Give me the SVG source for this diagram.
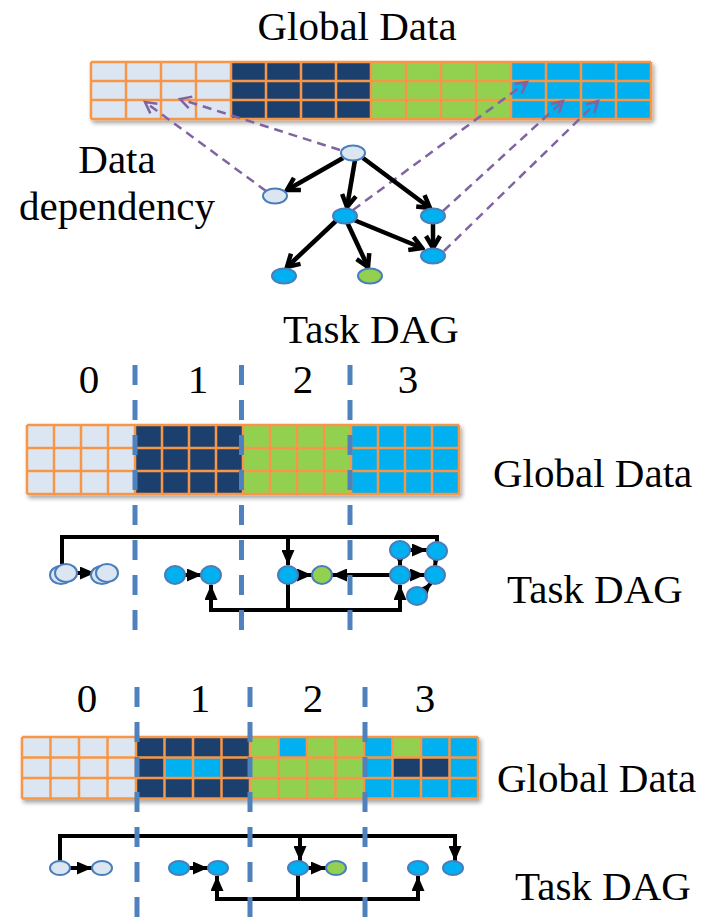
<svg xmlns="http://www.w3.org/2000/svg" width="702" height="922" viewBox="0 0 702 922">
<style>
.t{font-family:"Liberation Serif","Times New Roman",serif;font-size:41px;fill:#000}
.mid{text-anchor:middle}
.gl{stroke:#f79646;stroke-width:2.5;fill:none}
.lt{fill:#dce6f2}.dk{fill:#1f3f6e}.gr{fill:#92d050}.cy{fill:#00b0f0}
.nd{stroke:#4a7ebb;stroke-width:2}
.pd{stroke:#8064a2;stroke-width:2.5;stroke-dasharray:9 6;fill:none}
.ba{stroke:#000;stroke-width:4.5;fill:none}
.bk{stroke:#000;stroke-width:4;fill:none}
.vd{stroke:#4f81bd;stroke-width:5;stroke-dasharray:20 15;fill:none}
</style>
<defs>
<filter id="sh" x="-5%" y="-20%" width="110%" height="150%"><feDropShadow dx="2" dy="3" stdDeviation="2" flood-color="#000" flood-opacity="0.35"/></filter>
<marker id="chev" viewBox="0 0 18 18" refX="15" refY="9" markerWidth="18" markerHeight="18" markerUnits="userSpaceOnUse" orient="auto"><path d="M3,2 L15,9 L3,16" fill="none" stroke="#000" stroke-width="4.5" stroke-linejoin="miter"/></marker>
<marker id="parr" viewBox="0 0 16 16" refX="13" refY="8" markerWidth="16" markerHeight="16" markerUnits="userSpaceOnUse" orient="auto"><path d="M2,2 L13,8 L2,14" fill="none" stroke="#8064a2" stroke-width="2.5"/></marker>
<marker id="tri" viewBox="0 0 15 13" refX="15" refY="6.5" markerWidth="15" markerHeight="13" markerUnits="userSpaceOnUse" orient="auto"><path d="M0,0 L15,6.5 L0,13 z" fill="#000"/></marker>
</defs>
<rect width="702" height="922" fill="#fff"/>

<!-- Top section -->
<text class="t mid" x="357" y="40">Global Data</text>
<g id="grid-top" filter="url(#sh)">
<rect class="lt" x="91" y="62" width="140" height="57"/>
<rect class="dk" x="231" y="62" width="140" height="57"/>
<rect class="gr" x="371" y="62" width="140" height="57"/>
<rect class="cy" x="511" y="62" width="140" height="57"/>
<path class="gl" d="M91,62H651M91,81H651M91,100H651M91,119H651M91,62V119M126,62V119M161,62V119M196,62V119M231,62V119M266,62V119M301,62V119M336,62V119M371,62V119M406,62V119M441,62V119M476,62V119M511,62V119M546,62V119M581,62V119M616,62V119M651,62V119"/>
</g>
<text class="t mid" x="117" y="173">Data</text>
<text class="t mid" x="117" y="220">dependency</text>
<g id="dependencies">
<path class="pd" d="M266,191 L145,102" marker-end="url(#parr)"/>
<path class="pd" d="M340,150 L180,99" marker-end="url(#parr)"/>
<path class="pd" d="M353,210 L527,82" marker-end="url(#parr)"/>
<path class="pd" d="M443,211 L563,101" marker-end="url(#parr)"/>
<path class="pd" d="M444,251 L598,101" marker-end="url(#parr)"/>
</g>
<g id="edges-top">
<path class="ba" d="M343,158 L287,190" marker-end="url(#chev)"/>
<path class="ba" d="M355,160 L347,207" marker-end="url(#chev)"/>
<path class="ba" d="M363,158 L430,208" marker-end="url(#chev)"/>
<path class="ba" d="M337,220 L287,267" marker-end="url(#chev)"/>
<path class="ba" d="M347,222 L368,267" marker-end="url(#chev)"/>
<path class="ba" d="M354,220 L422,248" marker-end="url(#chev)"/>
<path class="ba" d="M433,223 L433,248" marker-end="url(#chev)"/>
</g>
<g id="n-root"><ellipse class="nd lt" cx="353" cy="153" rx="12" ry="7.5"/></g>
<g id="n-left"><ellipse class="nd lt" cx="275" cy="196" rx="12" ry="7.5"/></g>
<g id="n-mid"><ellipse class="nd cy" cx="345" cy="216" rx="12" ry="7.5"/></g>
<g id="n-right"><ellipse class="nd cy" cx="433" cy="216" rx="12" ry="7.5"/></g>
<g id="n-bl"><ellipse class="nd cy" cx="284" cy="276" rx="12" ry="7.5"/></g>
<g id="n-bg"><ellipse class="nd gr" cx="370" cy="276" rx="12" ry="7.5"/></g>
<g id="n-br"><ellipse class="nd cy" cx="433" cy="256" rx="12" ry="7.5"/></g>
<text class="t mid" x="371" y="343">Task DAG</text>

<!-- Middle section -->
<text class="t mid" x="89" y="393">0</text>
<text class="t mid" x="198" y="393">1</text>
<text class="t mid" x="303" y="393">2</text>
<text class="t mid" x="408" y="393">3</text>
<g id="grid-mid" filter="url(#sh)">
<rect class="lt" x="27" y="425" width="108" height="69"/>
<rect class="dk" x="135" y="425" width="108" height="69"/>
<rect class="gr" x="243" y="425" width="108" height="69"/>
<rect class="cy" x="351" y="425" width="108" height="69"/>
<path class="gl" d="M27,425H459M27,448H459M27,471H459M27,494H459M27,425V494M54,425V494M81,425V494M108,425V494M135,425V494M162,425V494M189,425V494M216,425V494M243,425V494M270,425V494M297,425V494M324,425V494M351,425V494M378,425V494M405,425V494M432,425V494M459,425V494"/>
</g>
<text class="t" x="493" y="487">Global Data</text>
<g id="edges-mid">
<path class="bk" d="M62,564 V537 H288 V565" marker-end="url(#tri)"/>
<path class="bk" d="M288,537 H437 V542"/>
<path class="bk" d="M288,584 V610 H211 V585" marker-end="url(#tri)"/>
<path class="bk" d="M288,610 H400 V585" marker-end="url(#tri)"/>
<path class="bk" d="M76,573 H95" marker-end="url(#tri)"/>
<path class="bk" d="M185,575 H202" marker-end="url(#tri)"/>
<path class="bk" d="M298,575 H312" marker-end="url(#tri)"/>
<path class="bk" d="M391,575 H332" marker-end="url(#tri)"/>
<path class="bk" d="M410,550 H427" marker-end="url(#tri)"/>
<path class="bk" d="M400,558 V566" marker-end="url(#tri)"/>
<path class="bk" d="M436,558 L435,566" marker-end="url(#tri)"/>
<path class="bk" d="M409,575 H425" marker-end="url(#tri)"/>
<path class="bk" d="M424,591 L431,583" marker-end="url(#tri)"/>
</g>
<g id="m-a1"><ellipse class="nd lt" cx="61" cy="575" rx="11" ry="9"/><ellipse class="nd lt" cx="66" cy="573" rx="11" ry="9"/></g>
<g id="m-a2"><ellipse class="nd lt" cx="102" cy="575" rx="11" ry="9"/><ellipse class="nd lt" cx="107" cy="573" rx="11" ry="9"/></g>
<g id="m-b1"><ellipse class="nd cy" cx="175" cy="575" rx="10" ry="9"/></g>
<g id="m-b2"><ellipse class="nd cy" cx="211" cy="575" rx="10" ry="9"/></g>
<g id="m-c1"><ellipse class="nd cy" cx="288" cy="575" rx="10" ry="9"/></g>
<g id="m-c2"><ellipse class="nd gr" cx="322" cy="575" rx="10" ry="9"/></g>
<g id="m-d1"><ellipse class="nd cy" cx="400" cy="550" rx="10" ry="9"/></g>
<g id="m-d2"><ellipse class="nd cy" cx="437" cy="551" rx="10" ry="9"/></g>
<g id="m-d3"><ellipse class="nd cy" cx="400" cy="575" rx="10" ry="9"/></g>
<g id="m-d4"><ellipse class="nd cy" cx="435" cy="575" rx="10" ry="9"/></g>
<g id="m-d5"><ellipse class="nd cy" cx="417" cy="596" rx="10" ry="9"/></g>
<text class="t mid" x="595" y="603">Task DAG</text>
<g id="dividers-mid">
<path class="vd" d="M135,365 V633 M241.5,365 V633 M350,365 V633"/>
</g>

<!-- Bottom section -->
<text class="t mid" x="87" y="712">0</text>
<text class="t mid" x="200" y="712">1</text>
<text class="t mid" x="313" y="712">2</text>
<text class="t mid" x="425" y="712">3</text>
<g id="grid-bot" filter="url(#sh)">
<rect class="lt" x="22" y="737" width="114" height="61.5"/>
<rect class="dk" x="136" y="737" width="114" height="61.5"/>
<rect class="gr" x="250" y="737" width="114" height="61.5"/>
<rect class="cy" x="364" y="737" width="114" height="61.5"/>
<rect class="cy" x="164.5" y="757.5" width="57" height="20.5"/>
<rect class="cy" x="278.5" y="737" width="28.5" height="20.5"/>
<rect class="gr" x="392.5" y="737" width="28.5" height="20.5"/>
<rect class="dk" x="392.5" y="757.5" width="57" height="20.5"/>
<path class="gl" d="M22,737H478M22,757.5H478M22,778H478M22,798.5H478M22,737V798.5M50.5,737V798.5M79,737V798.5M107.5,737V798.5M136,737V798.5M164.5,737V798.5M193,737V798.5M221.5,737V798.5M250,737V798.5M278.5,737V798.5M307,737V798.5M335.5,737V798.5M364,737V798.5M392.5,737V798.5M421,737V798.5M449.5,737V798.5M478,737V798.5"/>
</g>
<text class="t" x="497" y="792">Global Data</text>
<g id="edges-bot">
<path class="bk" d="M60,861 V836 H300 V861" marker-end="url(#tri)"/>
<path class="bk" d="M300,836 H455 V861" marker-end="url(#tri)"/>
<path class="bk" d="M298,875 V899 H217 V876" marker-end="url(#tri)"/>
<path class="bk" d="M298,899 H418 V876" marker-end="url(#tri)"/>
<path class="bk" d="M70,868 H92" marker-end="url(#tri)"/>
<path class="bk" d="M189,868 H208" marker-end="url(#tri)"/>
<path class="bk" d="M308,868 H326" marker-end="url(#tri)"/>
</g>
<g id="b-e1"><ellipse class="nd lt" cx="60" cy="868" rx="10" ry="7"/></g>
<g id="b-e2"><ellipse class="nd lt" cx="102" cy="868" rx="10" ry="7"/></g>
<g id="b-f1"><ellipse class="nd cy" cx="179" cy="868" rx="10" ry="7"/></g>
<g id="b-f2"><ellipse class="nd cy" cx="218" cy="868" rx="10" ry="7"/></g>
<g id="b-g1"><ellipse class="nd cy" cx="298" cy="868" rx="10" ry="7"/></g>
<g id="b-g2"><ellipse class="nd gr" cx="336" cy="868" rx="10" ry="7"/></g>
<g id="b-h1"><ellipse class="nd cy" cx="418" cy="868" rx="10" ry="7"/></g>
<g id="b-h2"><ellipse class="nd cy" cx="453" cy="868" rx="10" ry="7"/></g>
<text class="t mid" x="603" y="900">Task DAG</text>
<g id="dividers-bot">
<path class="vd" d="M137,687 V922 M250,687 V922 M365,687 V922"/>
</g>
</svg>
